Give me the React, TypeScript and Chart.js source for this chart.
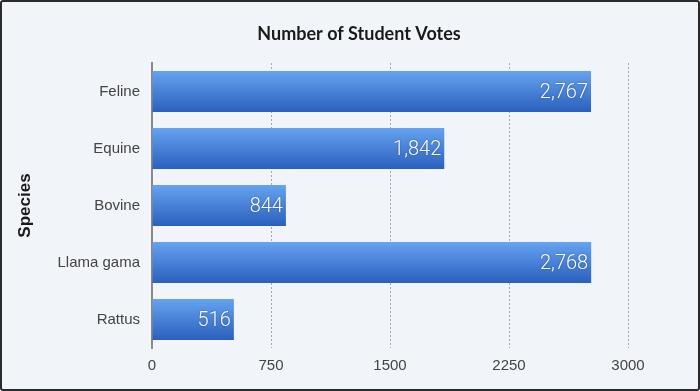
import React, { useEffect, useRef } from "react";
import { Chart, registerables } from "chart.js";

Chart.register(...registerables);

const categories = ["Feline", "Equine", "Bovine", "Llama gama", "Rattus"];
const votes = [2767, 1842, 844, 2768, 516];
const xTicks = [0, 750, 1500, 2250, 3000];
const chartTitle = "Number of Student Votes";
const yAxisTitle = "Species";

const valueLabels = {
  id: "valueLabels",
  afterDatasetsDraw(chart: any) {
    const ctx = chart.ctx;
    const meta = chart.getDatasetMeta(0);
    ctx.save();
    ctx.font = "300 20px Roboto, 'Liberation Sans', sans-serif";
    ctx.fillStyle = "#ffffff";
    ctx.textAlign = "right";
    ctx.textBaseline = "middle";
    ctx.shadowColor = "rgba(0,0,0,0.35)";
    ctx.shadowBlur = 2;
    ctx.shadowOffsetY = 0.5;
    meta.data.forEach((el: any, i: number) => {
      const { x, y } = el.getProps(["x", "y"], true);
      const v = chart.data.datasets[0].data[i] as number;
      ctx.fillText(v.toLocaleString("en-US"), x - 3, y + 1);
    });
    ctx.restore();
  },
};

const shiftTitle = {
  id: "shiftTitle",
  afterLayout(chart: any) {
    if (chart.titleBlock) {
      chart.titleBlock.left = 88;
    }
  },
};

export default function App() {
  const ref = useRef<HTMLCanvasElement | null>(null);
  useEffect(() => {
    document.body.style.margin = "0";
    const canvas = ref.current!;
    const chart = new Chart(canvas, {
      type: "bar",
      data: {
        labels: categories,
        datasets: [
          {
            data: votes,
            backgroundColor: (c: any) => {
              const ch = c.chart;
              if (!ch.chartArea || c.dataIndex === undefined) return "#3f7fd8";
              const ys = ch.scales.y;
              const cy = ys.getPixelForValue(c.dataIndex);
              const h = (ys.height / categories.length) * 0.72;
              const g = ch.ctx.createLinearGradient(0, cy - h / 2, 0, cy + h / 2);
              g.addColorStop(0, "#66a3f0");
              g.addColorStop(1, "#2a60bd");
              return g;
            },
            borderWidth: 0,
          },
        ],
      },
      options: {
        indexAxis: "y",
        animation: false,
        responsive: false,
        layout: { padding: { left: 0, right: 70, top: 0, bottom: 0 } },
        plugins: {
          legend: { display: false },
          tooltip: { enabled: false },
          title: {
            display: true,
            text: chartTitle,
            color: "#1a1a1a",
            font: { family: "Lato", size: 18, weight: "bold" },
            padding: { top: 21, bottom: 18.4 },
          },
        },
        scales: {
          x: {
            min: 0,
            max: 3000,
            afterFit: (s: any) => {
              s.height = 41;
            },
            afterBuildTicks: (s: any) => {
              s.ticks = xTicks.map((v) => ({ value: v }));
            },
            ticks: {
              padding: 9,
              color: "#444444",
              font: { family: "'Helvetica Neue', 'Liberation Sans', sans-serif", size: 15 },
              callback: (v: any) => String(v),
            },
            grid: {
              drawTicks: false,
              color: (c: any) => (c.tick && c.tick.value === 0 ? "rgba(0,0,0,0)" : "#a8a8a8"),
              lineWidth: 1,
              tickBorderDash: [2, 2],
            },
            border: { display: false, dash: [2, 2] },
          },
          y: {
            z: 1,
            afterFit: (s: any) => {
              s.width = 150;
            },
            ticks: {
              padding: 12,
              color: "#444444",
              font: { family: "'Helvetica Neue', 'Liberation Sans', sans-serif", size: 15 },
            },
            grid: { display: false, drawTicks: false },
            border: { display: true, color: "#8a8a8a", width: 2 },
            title: {
              display: true,
              text: yAxisTitle,
              color: "#1a1a1a",
              font: { family: "'Helvetica Neue', 'Liberation Sans', sans-serif", size: 17, weight: "bold" },
              padding: { top: 13, bottom: 0 },
            },
          },
        },
      },
      plugins: [valueLabels, shiftTitle],
    } as any);
    return () => chart.destroy();
  }, []);

  return (
    <div
      style={{
        position: "absolute",
        left: 0,
        top: 0,
        width: 700,
        height: 391,
        boxSizing: "border-box",
        border: "2px solid #2a2a2a",
        borderRadius: 3,
        background: "#f1f4f8",
      }}
    >
      <canvas ref={ref} width={696} height={387} style={{ display: "block" }} />
    </div>
  );
}
